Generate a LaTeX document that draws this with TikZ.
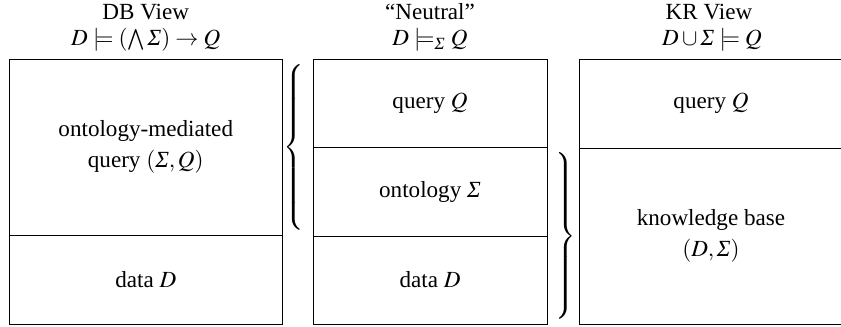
\documentclass[tikz,border=0pt]{standalone}
\usepackage{amsmath}
\usepackage{mathptmx}
\usepackage[no-math]{fontspec}
\setmainfont{Liberation Serif}
\newcommand{\iSig}{\text{\normalfont\itshape Σ}}
\begin{document}
\begin{tikzpicture}[x=0.476pt,y=-0.476pt,
  font=\fontsize{11}{14.5}\selectfont,
  cell/.style={draw, line width=0.45pt, inner sep=0pt, align=center, minimum width=#1*0.476pt},
  hdr/.style={inner sep=0pt, align=center},
  bracenode/.style={inner sep=0pt}]
\useasboundingbox (0,0) rectangle (841,327);
% headers
\node[hdr] (h1a) at (145.75,12) {DB View};
\node[hdr] (h1b) at (145.75,40) {$D \models (\bigwedge \iSig) \to Q$};
\node[hdr] (h2a) at (430,12) {“Neutral”};
\node[hdr] (h2b) at (430,40) {$D \models_{\iSig} Q$};
\node[hdr] (h3a) at (709,12) {KR View};
\node[hdr] (h3b) at (712,40) {$D \cup \iSig \models Q$};
% DB column
\node[cell=272.5, minimum height=176*0.476pt] (l1) at (145.75,147) {ontology-mediated\\query $(\iSig, Q)$};
\node[cell=272.5, minimum height=89*0.476pt] (l2) at (145.75,279.5) {data $D$};
% Neutral column
\node[cell=234, minimum height=88*0.476pt] (m1) at (430,103) {query $Q$};
\node[cell=234, minimum height=89*0.476pt] (m2) at (430,191.5) {ontology $\iSig$};
\node[cell=234, minimum height=88*0.476pt] (m3) at (430,280) {data $D$};
% KR column
\node[cell=264, minimum height=89*0.476pt] (r1) at (711,103.5) {query $Q$};
\node[cell=264, minimum height=176*0.476pt] (r2) at (711,236) {knowledge base\\$(D, \iSig)$};
% braces
\node[bracenode] (b1) at (295,147.5) {$\delimiterfactor=1000\delimitershortfall=0pt\left\{\vcenter{\hrule height 74pt width 0pt}\right.$};
\node[bracenode] (b2) at (564,236) {$\delimiterfactor=1000\delimitershortfall=0pt\left.\vcenter{\hrule height 74pt width 0pt}\right\}$};
\end{tikzpicture}
\end{document}
